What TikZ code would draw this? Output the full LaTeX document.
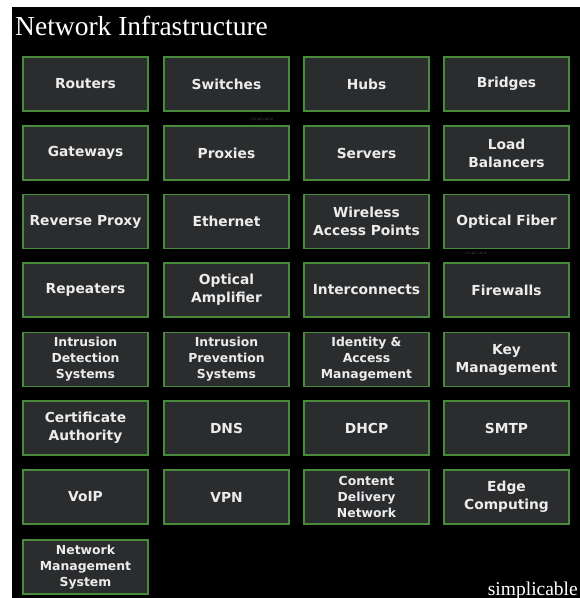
\documentclass[tikz,border=0pt]{standalone}
\usepackage{fontspec}
\setmainfont{Liberation Serif}
\newfontfamily\tilefont{DejaVu Sans}
\definecolor{tilefill}{RGB}{42,44,46}
\definecolor{tileedge}{RGB}{72,138,60}
\definecolor{tiletext}{RGB}{236,236,236}
\tikzset{
  tile/.style={draw=tileedge, line width=1.4pt, fill=tilefill, minimum width=125pt,
    minimum height=54pt, inner sep=0pt, align=center, text=tiletext,
    font=\tilefont\bfseries\fontsize{13.8}{18}\selectfont},
  tilesmall/.style={tile, font=\tilefont\bfseries\fontsize{12.4}{16}\selectfont},
  wmark/.style={text=white!22!black, font=\tilefont\fontsize{4}{5}\selectfont}
}

\begin{document}
\begin{tikzpicture}[x=1pt,y=-1pt]
\useasboundingbox (0,0) rectangle (580,598);
\fill[white] (0,0) rectangle (580,598);
\fill[black] (12,7) rectangle (580,598);
\node[anchor=base west, inner sep=0pt, text=white, font=\fontsize{27.5}{30}\selectfont] (title) at (15,35) {Network Infrastructure};

\node[tile] (routers) at (85.5,84) {Routers};
\node[tile] (switches) at (226.5,84) {Switches};
\node[tile] (hubs) at (366.5,84) {Hubs};
\node[tile] (bridges) at (506.5,84) {Bridges};

\node[tile] (gateways) at (85.5,153) {Gateways};
\node[tile] (proxies) at (226.5,153) {Proxies};
\node[tile] (servers) at (366.5,153) {Servers};
\node[tile] (loadbal) at (506.5,153) {Load\\Balancers};

\node[tile] (revproxy) at (85.5,221.5) {Reverse Proxy};
\node[tile] (ethernet) at (226.5,221.5) {Ethernet};
\node[tile] (wireless) at (366.5,221.5) {Wireless\\Access Points};
\node[tile] (fiber) at (506.5,221.5) {Optical Fiber};

\node[tile] (repeaters) at (85.5,290) {Repeaters};
\node[tile] (amplifier) at (226.5,290) {Optical\\Amplifier};
\node[tile] (interconn) at (366.5,290) {Interconnects};
\node[tile] (firewalls) at (506.5,290) {Firewalls};

\node[tilesmall] (ids) at (85.5,359.5) {Intrusion\\Detection\\Systems};
\node[tilesmall] (ips) at (226.5,359.5) {Intrusion\\Prevention\\Systems};
\node[tilesmall] (iam) at (366.5,359.5) {Identity \&\\Access\\Management};
\node[tile] (keymgmt) at (506.5,359.5) {Key\\Management};

\node[tile] (certauth) at (85.5,428) {Certificate\\Authority};
\node[tile] (dns) at (226.5,428) {DNS};
\node[tile] (dhcp) at (366.5,428) {DHCP};
\node[tile] (smtp) at (506.5,428) {SMTP};

\node[tile] (voip) at (85.5,497) {VoIP};
\node[tile] (vpn) at (226.5,497) {VPN};
\node[tilesmall] (cdn) at (366.5,497) {Content\\Delivery\\Network};
\node[tile] (edge) at (506.5,497) {Edge\\Computing};

\node[tilesmall] (nms) at (85.5,567) {Network\\Management\\System};

\node[wmark] (mark1) at (262,119) {simplicable};
\node[wmark] (mark2) at (476,253) {simplicable};
\node[anchor=base east, inner sep=0pt, text=white, font=\fontsize{19.5}{22}\selectfont] (brand) at (578,595) {simplicable};
\end{tikzpicture}
\end{document}
